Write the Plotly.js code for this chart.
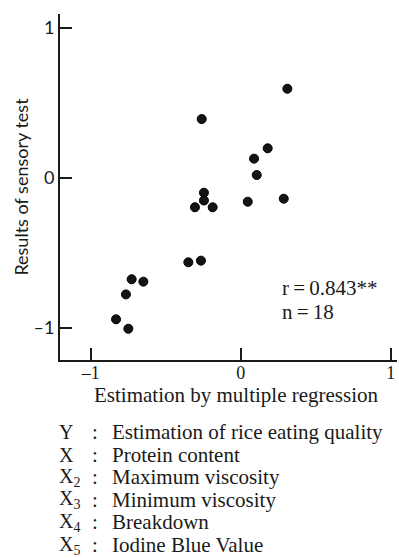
<!DOCTYPE html>
<html>
<head>
<meta charset="utf-8">
<script src="https://cdn.plot.ly/plotly-3.0.1.min.js"></script>
<style>html,body{margin:0;padding:0;background:#fff;}#chart{width:399px;height:558px;}</style>
</head>
<body>
<div id="chart"></div>
<script>
// Data
const estimation = [-0.727, -0.649, -0.765, -0.831, -0.749, -0.349, -0.265, -0.260, -0.245, -0.245, -0.305, -0.187, 0.180, 0.089, 0.107, 0.047, 0.287, 0.311];
const sensory    = [-0.675, -0.691, -0.776, -0.942, -1.005, -0.562, -0.551, 0.393, -0.098, -0.150, -0.195, -0.195, 0.198, 0.129, 0.020, -0.158, -0.138, 0.595];
const tickValues = [-1, 0, 1];
const tickLabels = ['\u20131', '0', '1'];
const xTitle = 'Estimation by multiple regression';
const yTitle = 'Results of sensory test';
const statsLines = ['r\u2009=\u20090.843**', 'n\u2009=\u200918'];
const keySymbols = ['Y', 'X', 'X<sub>2</sub>', 'X<sub>3</sub>', 'X<sub>4</sub>', 'X<sub>5</sub>'];
const keyTexts = ['Estimation of rice eating quality', 'Protein content', 'Maximum viscosity', 'Minimum viscosity', 'Breakdown', 'Iodine Blue Value'];

const W = 399, H = 558;
const M = {l: 60, r: 2, t: 14, b: 198};
const plotW = W - M.l - M.r, plotH = H - M.t - M.b;
const pxX = px => (px - M.l) / plotW;
const pxY = py => (H - M.b - py) / plotH;

const serif = 'Liberation Serif, Times New Roman, serif';
const ink = '#1a1a1a';
const txtSize = 21;

const annotations = [];
annotations.push({xref: 'paper', yref: 'paper', x: pxX(236.5), y: pxY(395), xanchor: 'center', yanchor: 'middle',
  showarrow: false, text: xTitle, font: {family: serif, size: txtSize, color: ink}});
statsLines.forEach((t, i) => {
  annotations.push({xref: 'paper', yref: 'paper', x: pxX(280), y: pxY(288 + i * 24),
    xanchor: 'left', yanchor: 'middle', showarrow: false, text: t,
    font: {family: serif, size: txtSize, color: ink}});
});
keySymbols.forEach((s, i) => {
  const py = 432 + i * 22.6;
  annotations.push({xref: 'paper', yref: 'paper', x: pxX(57), y: pxY(py), xanchor: 'left', yanchor: 'middle',
    showarrow: false, text: s, font: {family: serif, size: 20, color: ink}});
  annotations.push({xref: 'paper', yref: 'paper', x: pxX(95), y: pxY(py), xanchor: 'center', yanchor: 'middle',
    showarrow: false, text: ':', font: {family: serif, size: txtSize, color: ink}});
  annotations.push({xref: 'paper', yref: 'paper', x: pxX(110), y: pxY(py), xanchor: 'left', yanchor: 'middle',
    showarrow: false, text: keyTexts[i], font: {family: serif, size: txtSize, color: ink}});
});

const trace = {
  type: 'scatter', mode: 'markers', x: estimation, y: sensory,
  marker: {size: 9, color: '#141414', line: {width: 1, color: '#000'}},
  hoverinfo: 'x+y'
};

const layout = {
  width: W, height: H,
  margin: M,
  paper_bgcolor: '#fff', plot_bgcolor: '#fff',
  showlegend: false,
  font: {family: serif, color: ink, size: 19},
  xaxis: {
    range: [(M.l - 240.7) / 150, (W - M.r - 240.7) / 150],
    tickvals: tickValues, ticktext: tickLabels,
    ticks: 'inside', ticklen: 12, tickwidth: 2, tickcolor: ink,
    showline: true, linewidth: 2, linecolor: ink,
    showgrid: false, zeroline: false,
    ticklabelstandoff: -5,
    tickfont: {family: serif, size: 18, color: ink}
  },
  yaxis: {
    range: [-(H - M.b - 178) / 150, (178 - M.t) / 150],
    tickvals: tickValues, ticktext: tickLabels,
    ticks: 'inside', ticklen: 12, tickwidth: 2, tickcolor: ink,
    showline: true, linewidth: 2, linecolor: ink,
    showgrid: false, zeroline: false,
    tickfont: {family: 'Lato, sans-serif', size: 18, color: ink},
    title: {text: yTitle, standoff: 0, font: {family: 'Lato, sans-serif', size: 18, color: ink}}
  },
  annotations: annotations
};

Plotly.newPlot('chart', [trace], layout, {displayModeBar: false, staticPlot: true});
</script>
</body>
</html>
